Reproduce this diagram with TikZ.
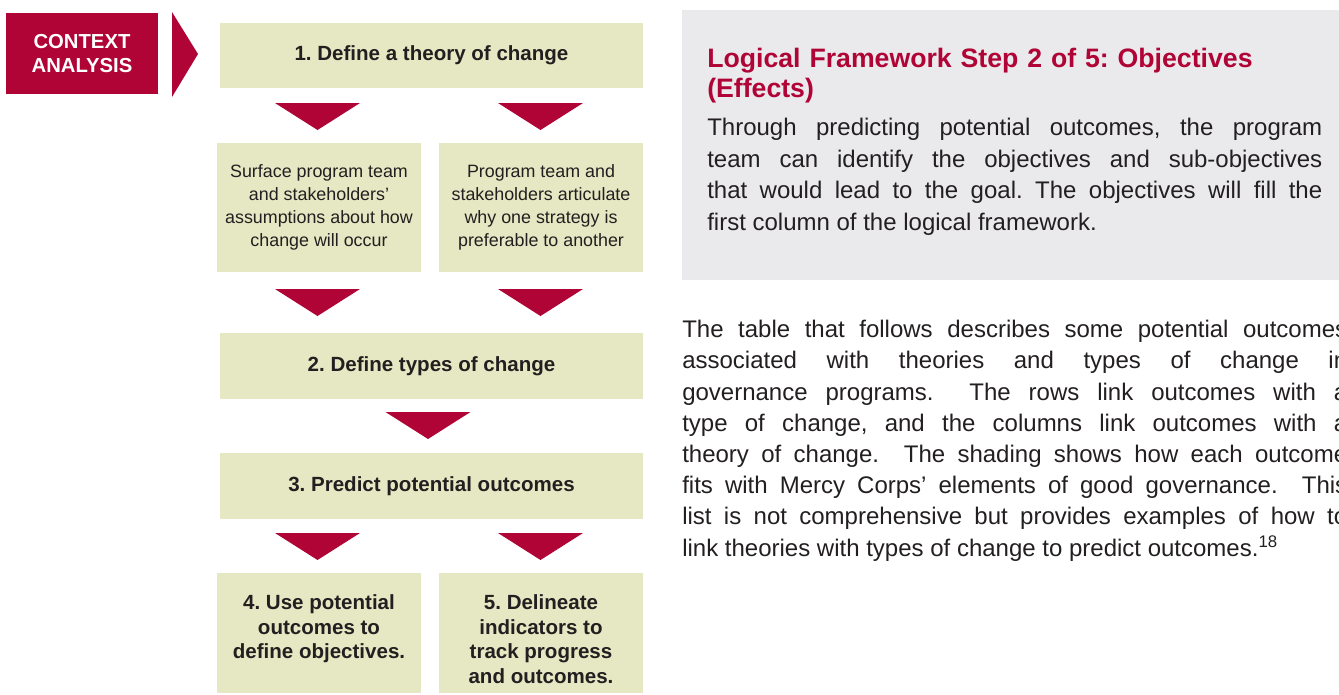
\documentclass[tikz,border=0pt]{standalone}
\usepackage{fontspec}
\setmainfont{Liberation Sans}
\frenchspacing
\definecolor{crimson}{RGB}{176,4,54}
\definecolor{beige}{RGB}{230,231,195}
\definecolor{panelgrey}{RGB}{234,234,236}
\definecolor{ink}{RGB}{35,31,32}
\tikzset{
  stepbox/.style={fill=beige, inner sep=0pt, align=center, text=ink},
  bigstep/.style={stepbox, font=\fontsize{15.4}{18.4}\selectfont\bfseries},
  smallstep/.style={stepbox, font=\fontsize{13.4}{17.25}\selectfont},
  steptext/.style={inner sep=0pt, align=center, text=ink, anchor=north,
                   font=\fontsize{15.4}{18.4}\selectfont\bfseries},
  downarrow/.pic={\fill[crimson] (-42.5,0) -- (42.5,0) -- (0,27) -- cycle;}
}

\begin{document}
\begin{tikzpicture}[x=0.75pt, y=-0.75pt]
    \clip (0,0) rectangle (1339,694);
    % context analysis tab
    \node[fill=crimson, text=white, align=center, inner sep=0pt,
          minimum width=114pt, minimum height=60.75pt,
          font=\fontsize{15.2}{18}\selectfont\bfseries] (ctx) at (82,53.5) {CONTEXT\\ANALYSIS};
    \fill[crimson] (172,12) -- (198,54) -- (172,97) -- cycle;
    % flow chart
    \node[bigstep, minimum width=317.25pt, minimum height=48.75pt] (s1) at (431.5,55.5) {1. Define a theory of change};
    \node[smallstep, minimum width=153pt, minimum height=96.75pt] (s1a) at (319,207.5) {Surface program team\\and stakeholders'\\assumptions about how\\change will occur};
    \node[smallstep, minimum width=153pt, minimum height=96.75pt] (s1b) at (541,207.5) {Program team and\\stakeholders articulate\\why one strategy is\\preferable to another};
    \node[bigstep, minimum width=317.25pt, minimum height=49.5pt] (s2) at (431.5,366) {2. Define types of change};
    \node[bigstep, minimum width=317.25pt, minimum height=49.5pt] (s3) at (431.5,486) {3. Predict potential outcomes};
    \node[stepbox, minimum width=153pt, minimum height=90pt] (s4) at (319,633) {};
    \node[stepbox, minimum width=153pt, minimum height=90pt] (s5) at (541,633) {};
    \node[steptext] (t4) at ([yshift=-16.5pt]s4.north) {4. Use potential\\outcomes to\\define objectives.};
    \node[steptext] (t5) at ([yshift=-16.5pt]s5.north) {5. Delineate\\indicators to\\track progress\\and outcomes.};
    \pic at (317.5,103) {downarrow};
    \pic at (540.5,103) {downarrow};
    \pic at (317.5,289) {downarrow};
    \pic at (540.5,289) {downarrow};
    \pic at (428,412) {downarrow};
    \pic at (317.5,533) {downarrow};
    \pic at (540.5,533) {downarrow};
    % side panel
    \fill[panelgrey] (682,10) rectangle (1345,280);
    \node[anchor=north west, inner sep=0pt, text width=461.25pt, align=left, text=crimson,
          font=\fontsize{20}{22.5}\selectfont\bfseries] (title) at (707,48)
          {Logical Framework Step 2 of 5: Objectives\\(Effects)};
    \node[anchor=north west, inner sep=0pt, text width=461.25pt, align=justify, text=ink,
          font=\fontsize{18}{23.75}\selectfont] (intro) at (707,118)
          {Through predicting potential outcomes, the program\linebreak
           team can identify the objectives and sub-objectives\linebreak
           that would lead to the goal. The objectives will fill the\linebreak
           first column of the logical framework.};
    \node[anchor=north west, inner sep=0pt, text width=498.75pt, align=justify, text=ink,
          font=\fontsize{18}{23.4}\selectfont] (para) at (682,320)
          {The table that follows describes some potential outcomes\linebreak
           associated with theories and types of change in\linebreak
           governance programs.\ \ The rows link outcomes with a\linebreak
           type of change, and the columns link outcomes with a\linebreak
           theory of change.\ \ The shading shows how each outcome\linebreak
           fits with Mercy Corps' elements of good governance.\ \ This\linebreak
           list is not comprehensive but provides examples of how to\linebreak
           link theories with types of change to predict outcomes.\textsuperscript{18}};
\end{tikzpicture}
\end{document}
